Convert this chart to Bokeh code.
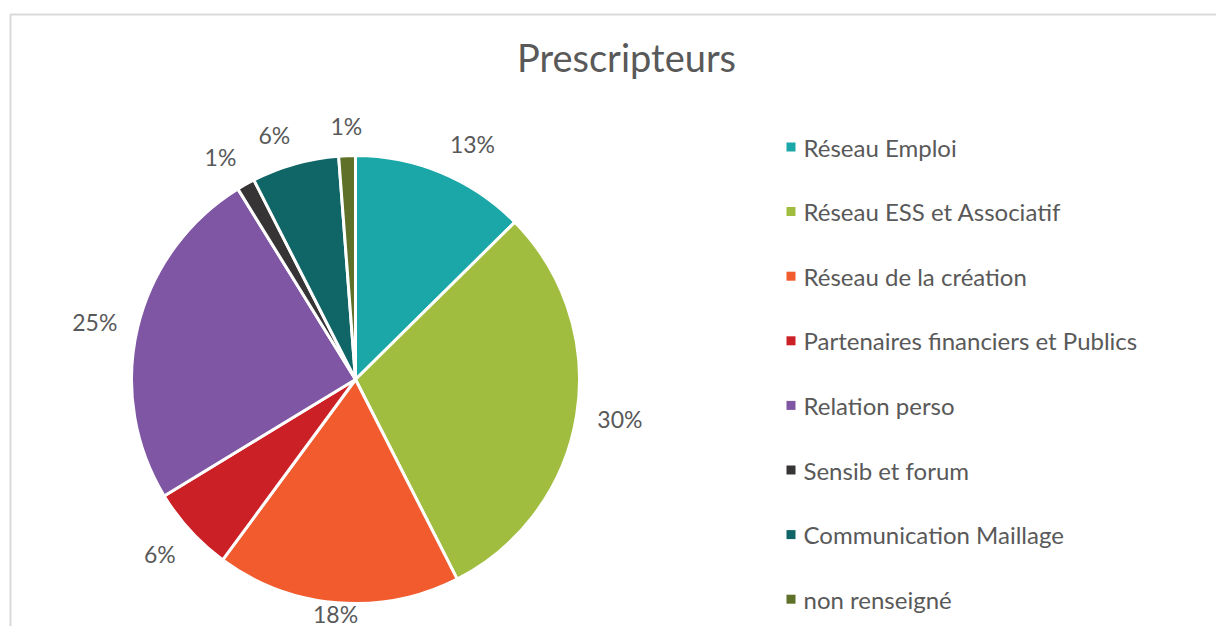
import math
from bokeh.plotting import figure
from bokeh.models import Range1d
from bokeh.core.properties import value
from bokeh.embed import file_html
from bokeh.resources import INLINE

categories = ["Réseau Emploi", "Réseau ESS et Associatif", "Réseau de la création",
              "Partenaires financiers et Publics", "Relation perso", "Sensib et forum",
              "Communication Maillage", "non renseigné"]
shares = [12.6, 29.9, 17.6, 6.2, 24.9, 1.3, 6.3, 1.2]
colors = ["#1BA7A7", "#A1BD3F", "#F15B2E", "#CC2027", "#7E56A3", "#363435", "#106666", "#5F7128"]

W, H = 1216, 626
FONT = value("Lato")
TXT = "#595959"

p = figure(width=W, height=H, output_backend="svg", toolbar_location=None,
           x_range=Range1d(0, W), y_range=Range1d(0, H),
           x_axis_type=None, y_axis_type=None, min_border=0)
p.grid.visible = False
p.outline_line_color = None
p.background_fill_color = "white"

# chart area border
p.line([10, 10, W + 20], [-20, H - 14, H - 14], line_color="#D9D9D9", line_width=2)

cx, cy, r = 355, H - 379, 224
total = sum(shares)
cum = 0.0
starts, ends, lx, ly, labs = [], [], [], [], []
for s in shares:
    a0 = cum / total
    cum += s
    a1 = cum / total
    starts.append(math.pi / 2 - 2 * math.pi * a1)
    ends.append(math.pi / 2 - 2 * math.pi * a0)
    mid = 2 * math.pi * (a0 + a1) / 2
    sx, sy = math.sin(mid), math.cos(mid)
    lab = f"{round(s / total * 100)}%"
    hw, hh = 7.5 * len(lab), 9
    ax_, ay_ = cx + (r + 21) * sx, cy + (r + 21) * sy
    ox = hw * math.copysign(1, sx) if abs(sx) > 0.26 else 0
    oy = hh * math.copysign(1, sy) if abs(sy) > 0.26 else 0
    lx.append(ax_ + ox)
    ly.append(max(ay_ + oy, 13))
    labs.append(lab)

p.wedge(x=cx, y=cy, radius=r, start_angle=starts, end_angle=ends,
        fill_color=colors, line_color="white", line_width=3)

p.text(x=lx, y=ly, text=labs, text_align="center", text_baseline="middle",
       text_font=FONT, text_font_size="23px", text_color=TXT)

p.text(x=[626], y=[H - 56], text=["Prescripteurs"], text_align="center",
       text_baseline="middle", text_font=FONT, text_font_size="38px", text_color=TXT)

# legend
ys = [H - (146.5 + i * 64.6) for i in range(len(categories))]
p.scatter(x=[790.5] * len(categories), y=ys, marker="square", size=9,
          fill_color=colors, line_color=None)
p.text(x=[803] * len(categories), y=ys, text=categories, text_align="left",
       text_baseline="middle", text_font=FONT, text_font_size="24px", text_color=TXT)

open("out.html", "w").write(file_html(p, INLINE))
